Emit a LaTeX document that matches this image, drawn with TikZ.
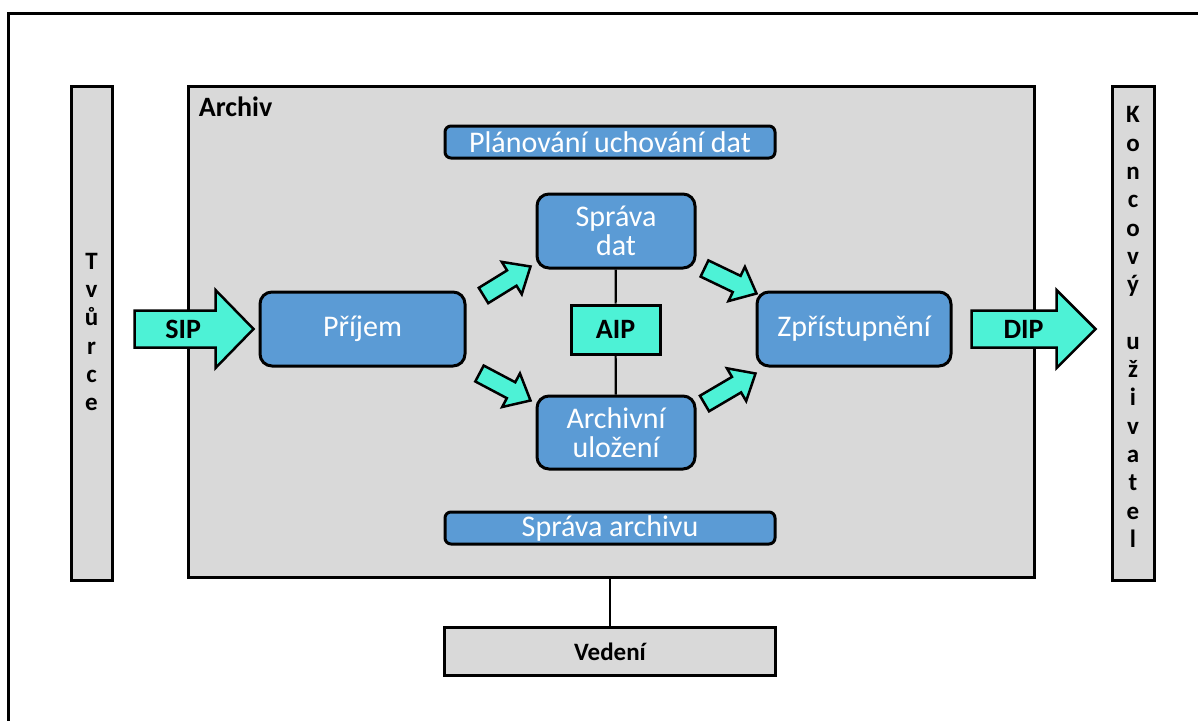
\documentclass[tikz,border=0pt]{standalone}
\usepackage{fontspec}
\setmainfont{Carlito}
\usepackage{tikz}
\usetikzlibrary{calc}
\usetikzlibrary{positioning}

\definecolor{boxblue}{RGB}{91,155,213}
\definecolor{arrcyan}{RGB}{77,242,214}
\definecolor{boxgray}{RGB}{217,217,217}

% tail, tip, shaft half width, head half width, head length
\newcommand{\fatarrow}[5]{%
  \coordinate (fah) at ($(#2)!#5!(#1)$);
  \draw[fat] ($(#1)!#3!90:(#2)$) -- ($(fah)!#3!90:(#2)$) -- ($(fah)!#4!90:(#2)$)
    -- (#2) -- ($(fah)!#4!-90:(#2)$) -- ($(fah)!#3!-90:(#2)$) -- ($(#1)!#3!-90:(#2)$) -- cycle;
}

\begin{document}
\begin{tikzpicture}[x=1pt,y=-1pt,thick]
\tikzstyle{bar}=[draw,fill=boxgray,line width=3pt,inner sep=0pt,align=center,font=\fontsize{25}{29}\selectfont\bfseries]
\tikzstyle{vtxt}=[inner sep=0pt,align=center,font=\fontsize{25}{28.3}\selectfont\bfseries]
\tikzstyle{blk}=[draw,fill=boxblue,line width=3pt,rounded corners=12pt,inner sep=0pt,text=white,align=center,font=\fontsize{30}{29}\selectfont]
\tikzstyle{flat}=[blk,rounded corners=6pt]
\tikzstyle{pkg}=[draw,fill=arrcyan,line width=3pt,inner sep=0pt,font=\fontsize{28}{30}\selectfont\bfseries]
\tikzstyle{lbl}=[inner sep=0pt,font=\fontsize{28}{30}\selectfont\bfseries]
\tikzstyle{fat}=[draw,fill=arrcyan,line width=2.5pt,line join=miter]
\useasboundingbox (0,0) rectangle (1198,720);
\draw[line width=3pt] (8,13) rectangle (1220,740);

\node[bar,minimum width=41pt,minimum height=494pt]	(tvurce)	at (91.5,333)	{};
\node[vtxt]	(tvurcetxt)	at (91.5,332)	{T\\v\\ů\\r\\c\\e};
\node[bar,minimum width=42pt,minimum height=494pt]	(uzivatel)	at (1133,333)	{};
\node[vtxt]	(uzivtxt)	at (1133,327)	{K\\o\\n\\c\\o\\v\\ý\\\mbox{}\\u\\ž\\i\\v\\a\\t\\e\\l};
\node[bar,minimum width=846pt,minimum height=491pt]	(archiv)	at (611,331.5)	{};
\node[lbl,anchor=base west]	(archivlbl)	at ($(archiv.north west)+(12,32)$)	{Archiv};
\node[bar,minimum width=331pt,minimum height=48pt,font=\fontsize{25}{28}\selectfont\bfseries]	(vedeni)	at (610,651.5)	{Vedení};

\node[flat,minimum width=330pt,minimum height=32pt]	(planovani)	at (610,142)	{Plánování uchování dat};
\node[flat,minimum width=330pt,minimum height=32pt]	(spravaarch)	at (610,528)	{Správa archivu};
\node[blk,minimum width=205pt,minimum height=74pt]	(prijem)	at (362.5,329)	{Příjem};
\node[blk,minimum width=158pt,minimum height=74pt]	(sprava)	at (616,231)	{Správa\\dat};
\node[blk,minimum width=158pt,minimum height=73pt]	(ulozeni)	at (616,432.5)	{Archivní\\uložení};
\node[blk,minimum width=194pt,minimum height=74pt]	(zpr)	at (854,329)	{Zpřístupnění};
\node[pkg,minimum width=89pt,minimum height=49pt]	(aip)	at (615.5,329.5)	{AIP};

\path[draw,line width=2.2pt]	(sprava)	edge	(aip)
	(aip)	edge	(ulozeni)
	(vedeni.north)	edge	(vedeni.north |- archiv.south);

% ends of the block arrows
\coordinate	(sipS)	at ($(tvurce.east |- prijem.west)+(21,0)$);
\coordinate	(sipE)	at ($(prijem.west)+(-5,0)$);
\coordinate	(dipS)	at ($(zpr.east)+(19,0)$);
\coordinate	(dipE)	at ($(uzivatel.west |- zpr.east)+(-15,0)$);
\coordinate	(a1S)	at ($(prijem.north east)+(17,5)$);
\coordinate	(a1E)	at ($(sprava.south west)+(-5,-3)$);
\coordinate	(a2S)	at ($(prijem.south east)+(13,6)$);
\coordinate	(a2E)	at ($(ulozeni.north west)+(-5,6)$);
\coordinate	(a3S)	at ($(sprava.south east)+(8,-1)$);
\coordinate	(a3E)	at ($(zpr.north west)+(1,3)$);
\coordinate	(a4S)	at ($(ulozeni.north east)+(8,9)$);
\coordinate	(a4E)	at ($(zpr.south west)+(0,6)$);

\fatarrow{sipS}{sipE}{18.5pt}{39pt}{38pt}
\fatarrow{dipS}{dipE}{18.5pt}{39pt}{39pt}
\fatarrow{a1S}{a1E}{9pt}{19pt}{22pt}
\fatarrow{a2S}{a2E}{9pt}{19pt}{22pt}
\fatarrow{a3S}{a3E}{9pt}{19pt}{22pt}
\fatarrow{a4S}{a4E}{9pt}{19pt}{22pt}
\node[lbl]	(siptxt)	at ($(sipS)!0.41!(sipE)$)	{SIP};
\node[lbl]	(diptxt)	at ($(dipS)!0.42!(dipE)$)	{DIP};
\end{tikzpicture}
\end{document}
